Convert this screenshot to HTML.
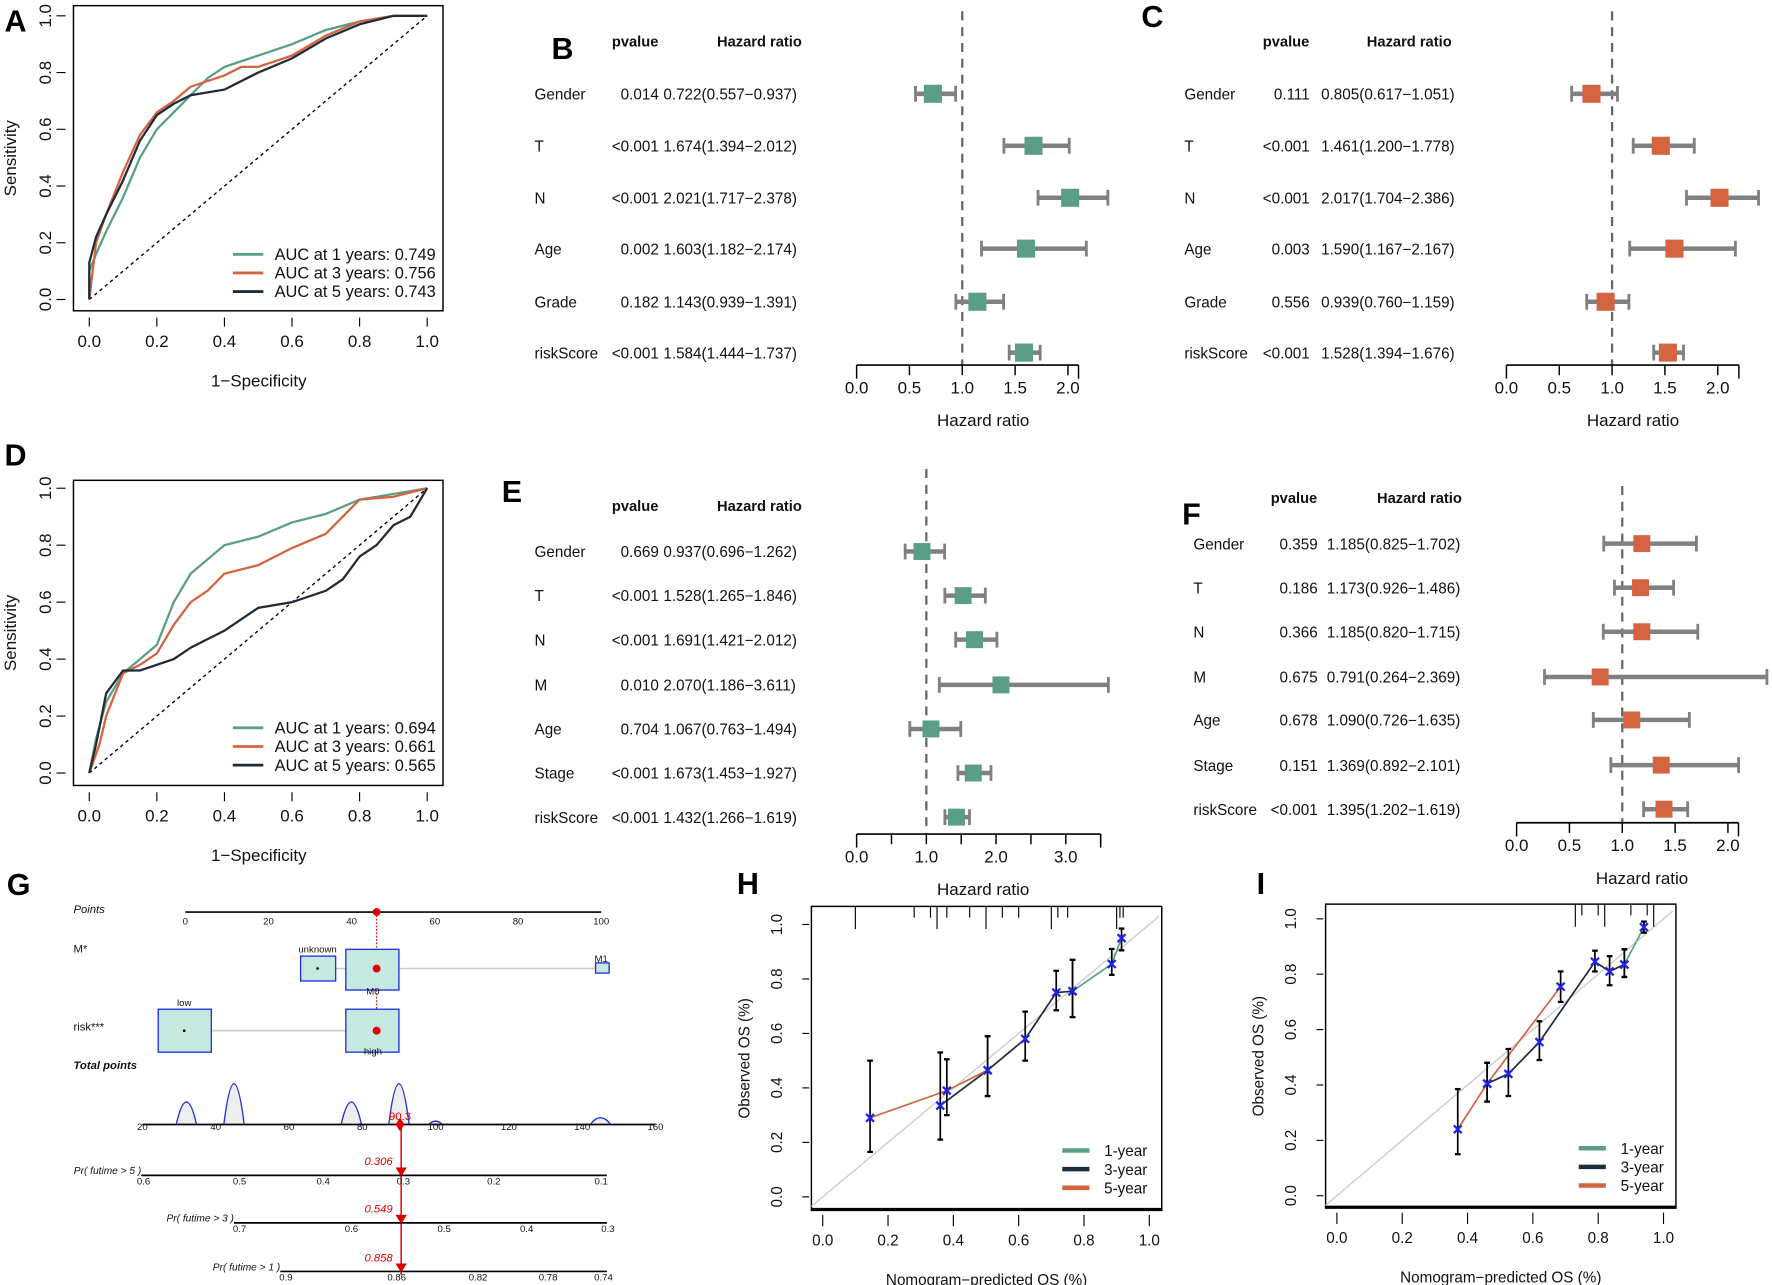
<!DOCTYPE html>
<html><head><meta charset="utf-8"><style>
html,body{margin:0;padding:0;background:#fff}
svg{display:block;font-family:"Liberation Sans",Arial,sans-serif}
</style></head><body>
<svg id="fig" xmlns="http://www.w3.org/2000/svg" width="1772" height="1285" viewBox="0 0 1568 1137" preserveAspectRatio="none"></svg>
<script>
// ---------- DATA ----------
// ROC A
const rocA_1y_fpr=[0,0,0.02,0.05,0.1,0.15,0.2,0.25,0.3,0.35,0.4,0.5,0.6,0.7,0.8,0.9,1];
const rocA_1y_tpr=[0,0.1,0.16,0.24,0.36,0.5,0.6,0.66,0.72,0.78,0.82,0.86,0.9,0.95,0.98,1,1];
const rocA_3y_fpr=[0,0.02,0.05,0.1,0.15,0.2,0.25,0.3,0.4,0.45,0.5,0.6,0.7,0.8,0.9,1];
const rocA_3y_tpr=[0,0.2,0.3,0.45,0.58,0.66,0.7,0.75,0.79,0.82,0.82,0.86,0.93,0.98,1,1];
const rocA_5y_fpr=[0,0,0.02,0.05,0.1,0.15,0.2,0.25,0.3,0.4,0.45,0.5,0.6,0.7,0.8,0.9,1];
const rocA_5y_tpr=[0,0.13,0.22,0.3,0.42,0.56,0.65,0.69,0.72,0.74,0.77,0.8,0.85,0.92,0.97,1,1];
const rocA_auc=["0.749","0.756","0.743"];
// ROC D
const rocD_1y_fpr=[0,0.02,0.05,0.1,0.15,0.2,0.25,0.3,0.35,0.4,0.5,0.6,0.7,0.8,0.9,1];
const rocD_1y_tpr=[0,0.12,0.25,0.35,0.4,0.45,0.6,0.7,0.75,0.8,0.83,0.88,0.91,0.96,0.98,1];
const rocD_3y_fpr=[0,0.03,0.05,0.1,0.15,0.2,0.25,0.3,0.35,0.4,0.5,0.6,0.7,0.8,0.9,1];
const rocD_3y_tpr=[0,0.1,0.2,0.35,0.38,0.42,0.52,0.6,0.64,0.7,0.73,0.79,0.84,0.96,0.97,1];
const rocD_5y_fpr=[0,0.02,0.05,0.1,0.15,0.2,0.25,0.3,0.35,0.4,0.5,0.6,0.7,0.75,0.8,0.85,0.9,0.95,1];
const rocD_5y_tpr=[0,0.1,0.28,0.36,0.36,0.38,0.4,0.44,0.47,0.5,0.58,0.6,0.64,0.68,0.76,0.8,0.87,0.9,1];
const rocD_auc=["0.694","0.661","0.565"];
const rocTicks=[0,0.2,0.4,0.6,0.8,1.0];
// Forest B
const fB_names=["Gender","T","N","Age","Grade","riskScore"];
const fB_p=["0.014","<0.001","<0.001","0.002","0.182","<0.001"];
const fB_hr=[0.722,1.674,2.021,1.603,1.143,1.584];
const fB_lo=[0.557,1.394,1.717,1.182,0.939,1.444];
const fB_hi=[0.937,2.012,2.378,2.174,1.391,1.737];
// Forest C
const fC_names=["Gender","T","N","Age","Grade","riskScore"];
const fC_p=["0.111","<0.001","<0.001","0.003","0.556","<0.001"];
const fC_hr=[0.805,1.461,2.017,1.590,0.939,1.528];
const fC_lo=[0.617,1.200,1.704,1.167,0.760,1.394];
const fC_hi=[1.051,1.778,2.386,2.167,1.159,1.676];
// Forest E
const fE_names=["Gender","T","N","M","Age","Stage","riskScore"];
const fE_p=["0.669","<0.001","<0.001","0.010","0.704","<0.001","<0.001"];
const fE_hr=[0.937,1.528,1.691,2.070,1.067,1.673,1.432];
const fE_lo=[0.696,1.265,1.421,1.186,0.763,1.453,1.266];
const fE_hi=[1.262,1.846,2.012,3.611,1.494,1.927,1.619];
// Forest F
const fF_names=["Gender","T","N","M","Age","Stage","riskScore"];
const fF_p=["0.359","0.186","0.366","0.675","0.678","0.151","<0.001"];
const fF_hr=[1.185,1.173,1.185,0.791,1.090,1.369,1.395];
const fF_lo=[0.825,0.926,0.820,0.264,0.726,0.892,1.202];
const fF_hi=[1.702,1.486,1.715,2.369,1.635,2.101,1.619];
const hrTicks2=[0,0.5,1.0,1.5,2.0];
const hrTicks3=[0,0.5,1.0,1.5,2.0,2.5,3.0,3.5];
const hrLabels3=["0.0","","1.0","","2.0","","3.0",""];
// Calibration H
const cH5_x=[0.145,0.38,0.505], cH5_y=[0.29,0.39,0.465], cH5_lo=[0.165,0.30,0.37], cH5_hi=[0.50,0.505,0.59];
const cH3_x=[0.36,0.505,0.62,0.715,0.765], cH3_y=[0.335,0.465,0.58,0.75,0.755], cH3_lo=[0.21,0.37,0.50,0.685,0.66], cH3_hi=[0.53,0.59,0.68,0.83,0.87];
const cH1_x=[0.765,0.885,0.915], cH1_y=[0.755,0.855,0.95], cH1_lo=[0.66,0.815,0.905], cH1_hi=[0.87,0.91,0.985];
const cH_rug=[0.1,0.28,0.33,0.35,0.38,0.45,0.5,0.55,0.6,0.7,0.72,0.75,0.9,0.91,0.92];
// Calibration I
const cI5_x=[0.37,0.46,0.685], cI5_y=[0.24,0.405,0.755], cI5_lo=[0.15,0.34,0.70], cI5_hi=[0.385,0.48,0.81];
const cI3_x=[0.46,0.525,0.62,0.79,0.835,0.88], cI3_y=[0.405,0.44,0.555,0.845,0.81,0.835], cI3_lo=[0.34,0.36,0.49,0.81,0.76,0.79], cI3_hi=[0.48,0.53,0.63,0.885,0.865,0.89];
const cI1_x=[0.88,0.94], cI1_y=[0.835,0.97], cI1_lo=[0.79,0.95], cI1_hi=[0.89,0.99];
const cI_rug=[0.73,0.75,0.8,0.82,0.9,0.95,0.97];
const calTicks=[0,0.2,0.4,0.6,0.8,1.0];
// Nomogram
const nomPoints=[0,20,40,60,80,100];
const nomTotal=[20,40,60,80,100,120,140,160];
const nomTotalScore=90.3;
const nomPts=46;
const nomDensX=[32,45,77,90,100,145], nomDensH=[20,36,20,36,3,6];
const pr5=["0.6","0.5","0.4","0.3","0.2","0.1"], pr3=["0.7","0.6","0.5","0.4","0.3"], pr1=["0.9","0.86","0.82","0.78","0.74"];
const prVals=["0.306","0.549","0.858"];

const GREEN="#5a9e87", ORANGE="#d4643f", NAVY="#1e2b3a", GRAY="#808080";
const NS="http://www.w3.org/2000/svg";
const S=document.getElementById('fig');
function mk(tag,attrs,parent){const e=document.createElementNS(NS,tag);for(const k in attrs)e.setAttribute(k,attrs[k]);(parent||S).appendChild(e);return e;}
function tx(str,x,y,attrs,parent){const e=mk('text',Object.assign({x:x,y:y,'font-size':14,fill:'#111'},attrs||{}),parent);e.textContent=str;return e;}
function grp(name){const g=mk('g',{});return g;}
function letter(s,x,y){const t=tx(s,x,y,{'font-size':27,'font-weight':'bold',fill:'#000'});}

// ---------- ROC ----------
function roc(id,top,bot,y0,y1,curves,auc,legY){
  const g=grp('roc-panel-'+id);
  const sx=v=>79+v*299, sy=v=>y0-v*(y0-y1);
  mk('rect',{x:65,y:top,width:327,height:bot-top,fill:'none',stroke:'#000','stroke-width':1.3},g);
  mk('line',{x1:sx(0),y1:sy(0),x2:sx(1),y2:sy(1),stroke:'#000','stroke-dasharray':'3,3','stroke-width':1.2},g);
  rocTicks.forEach(v=>{
    mk('line',{x1:sx(v),y1:bot+6,x2:sx(v),y2:bot+14,stroke:'#000'},g);
    const t=tx(v.toFixed(1),sx(v),bot+32,{'text-anchor':'middle','font-size':15},g);
    
    mk('line',{x1:50,y1:sy(v),x2:58,y2:sy(v),stroke:'#000'},g);
    const u=tx(v.toFixed(1),0,0,{'text-anchor':'middle','font-size':15,transform:`translate(45,${sy(v)}) rotate(-90)`},g);
    
  });
  mk('line',{x1:sx(0),y1:bot+10,x2:sx(1),y2:bot+10,stroke:'#000'},g).setAttribute('opacity','0');
  const xl=tx('1−Specificity',229,bot+67,{'text-anchor':'middle','font-size':15},g);
  
  const yl=tx('Sensitivity',0,0,{'text-anchor':'middle','font-size':15,transform:`translate(14,${(top+bot)/2}) rotate(-90)`},g);
  
  const cols=[GREEN,ORANGE,NAVY], yrs=[1,3,5];
  curves.forEach((c,i)=>{
    let d='';c[0].forEach((f,j)=>{d+=(j?'L':'M')+sx(f)+','+sy(c[1][j]);});
    const p=mk('path',{d:d,fill:'none',stroke:cols[i],'stroke-width':2},g);
    
  });
  curves.slice().reverse();
  yrs.forEach((y,i)=>{
    const yy=legY+i*16.5;
    const l=mk('line',{x1:206,y1:yy-5,x2:233,y2:yy-5,stroke:cols[i],'stroke-width':2.5},g);
    
    const t=tx(`AUC at ${y} years: ${auc[i]}`,243,yy,{'font-size':14.5},g);
    
  });
}
letter('A',4,28);
roc('a',5,275,265,14,[[rocA_1y_fpr,rocA_1y_tpr],[rocA_3y_fpr,rocA_3y_tpr],[rocA_5y_fpr,rocA_5y_tpr]],rocA_auc,230);
letter('D',4,412);
roc('d',425,695,684,432,[[rocD_1y_fpr,rocD_1y_tpr],[rocD_3y_fpr,rocD_3y_tpr],[rocD_5y_fpr,rocD_5y_tpr]],rocD_auc,649);

// ---------- FOREST ----------
function forest(id,c){
  const g=grp('forest-plot-'+id);
  const sx=v=>c.x0+v*c.unit;
  const h1=tx('pvalue',c.pvX,c.hdrY,{'font-size':13,'font-weight':'bold','text-anchor':'middle'},g);
  
  const h2=tx('Hazard ratio',c.hrHX,c.hdrY,{'font-size':13,'font-weight':'bold','text-anchor':'middle'},g);
  
  const dl=mk('line',{x1:sx(1),y1:c.dTop,x2:sx(1),y2:c.axY,stroke:'#666','stroke-width':2,'stroke-dasharray':'8,6'},g);
  
  c.names.forEach((n,i)=>{
    const y=c.rows[i];
    const a=tx(n,c.nameX,y+5,{'font-size':13.5},g);
    const b=tx(c.p[i],c.pR,y+5,{'font-size':13.5,'text-anchor':'end'},g);
    const t=tx(`${c.hr[i].toFixed(3)}(${c.lo[i].toFixed(3)}−${c.hi[i].toFixed(3)})`,c.hrX,y+5,{'font-size':13.5},g);
    
    const hiV=Math.min(c.hi[i],c.clip);
    const ci=mk('line',{x1:sx(c.lo[i]),y1:y,x2:sx(hiV),y2:y,stroke:GRAY,'stroke-width':4},g);
    
    mk('line',{x1:sx(c.lo[i]),y1:y-7,x2:sx(c.lo[i]),y2:y+7,stroke:GRAY,'stroke-width':2.5},g);
    if(c.hi[i]<=c.clip)mk('line',{x1:sx(c.hi[i]),y1:y-7,x2:sx(c.hi[i]),y2:y+7,stroke:GRAY,'stroke-width':2.5},g);
    const sq=mk('rect',{x:sx(c.hr[i])-c.sq/2,y:y-c.sq/2,width:c.sq,height:c.sq,fill:c.color},g);
    
  });
  mk('line',{x1:sx(c.ticks[0]),y1:c.axY,x2:sx(c.axEnd),y2:c.axY,stroke:'#000','stroke-width':1.5},g);
  c.ticks.forEach((v,i)=>{
    mk('line',{x1:sx(v),y1:c.axY,x2:sx(v),y2:c.axY+(i==0?12:9),stroke:'#000','stroke-width':1.3},g);
    const lab=c.labels?c.labels[i]:v.toFixed(1);
    if(lab){const t=tx(lab,sx(v),c.axY+25,{'font-size':15,'text-anchor':'middle'},g);}
  });
  mk('line',{x1:sx(c.axEnd),y1:c.axY,x2:sx(c.axEnd),y2:c.axY+12,stroke:'#000','stroke-width':1.3},g);
  const ti=tx('Hazard ratio',c.titleX,c.axY+54,{'font-size':15,'text-anchor':'middle'},g);
  
}
const rowsBC=[83,129,175,220,267,312];
letter('B',488,52);
forest('b',{names:fB_names,p:fB_p,hr:fB_hr,lo:fB_lo,hi:fB_hi,rows:rowsBC,nameX:473,pR:583,hrX:587,pvX:562,hrHX:672,hdrY:41,x0:758,unit:93.5,axY:323,dTop:10,ticks:hrTicks2,axEnd:2.1,titleX:870,color:GREEN,sq:16,clip:99});
letter('C',1010,24);
forest('c',{names:fC_names,p:fC_p,hr:fC_hr,lo:fC_lo,hi:fC_hi,rows:rowsBC,nameX:1048,pR:1159,hrX:1169,pvX:1138,hrHX:1247,hdrY:41,x0:1333,unit:93.5,axY:323,dTop:10,ticks:hrTicks2,axEnd:2.2,titleX:1445,color:ORANGE,sq:16,clip:99});
letter('E',444,444);
forest('e',{names:fE_names,p:fE_p,hr:fE_hr,lo:fE_lo,hi:fE_hi,rows:[488,527,566,606,645,684,723],nameX:473,pR:583,hrX:587,pvX:562,hrHX:672,hdrY:452,x0:758,unit:61.7,axY:738,dTop:415,ticks:hrTicks3,labels:hrLabels3,axEnd:3.5,titleX:870,color:GREEN,sq:15,clip:99});
letter('F',1046,464);
forest('f',{names:fF_names,p:fF_p,hr:fF_hr,lo:fF_lo,hi:fF_hi,rows:[481,520,559,599,637,677,716],nameX:1056,pR:1166,hrX:1174,pvX:1145,hrHX:1256,hdrY:445,x0:1342,unit:93.5,axY:728,dTop:430,ticks:hrTicks2,axEnd:2.1,titleX:1453,color:ORANGE,sq:15,clip:2.4});

// ---------- NOMOGRAM ----------
(function(){
  letter('G',6,792);
  const g=grp('nomogram');
  const px=v=>164+v*3.68, tx2=v=>126+(v-20)*3.243;
  const it={'font-style':'italic','font-size':10};
  tx('Points',65,808,it,g);
  mk('line',{x1:px(0),y1:807,x2:px(100),y2:807,stroke:'#000','stroke-width':1.5},g);
  nomPoints.forEach(v=>{tx(String(v),px(v),818,{'font-size':8.5,'text-anchor':'middle'},g);});
  mk('line',{x1:px(nomPts),y1:807,x2:px(nomPts),y2:912,stroke:'#d00','stroke-dasharray':'1.5,1.5'},g);
  mk('circle',{cx:px(nomPts),cy:807,r:3.5,fill:'#d00'},g);
  tx('M*',65,843,{'font-size':10},g);
  mk('line',{x1:297,y1:857,x2:527,y2:857,stroke:'#ccc','stroke-width':1.5},g);
  [[266,846,31,22,'unknown',843,281],[306,840,47,36,'M0',880,330],[527,852,12,9,'M1',851,532]].forEach(b=>{
    const r=mk('rect',{x:b[0],y:b[1],width:b[2],height:b[3],fill:'#c5e9e0',stroke:'#2233dd','stroke-width':1.2},g);
    
    tx(b[4],b[6],b[5],{'font-size':8.5,'text-anchor':'middle'},g);
  });
  tx('risk***',65,912,{'font-size':10},g);
  mk('line',{x1:187,y1:912,x2:306,y2:912,stroke:'#ccc','stroke-width':1.5},g);
  [[140,893,'low',890,163],[306,893,'high',933,330]].forEach(b=>{
    const r=mk('rect',{x:b[0],y:b[1],width:47,height:38,fill:'#c5e9e0',stroke:'#2233dd','stroke-width':1.2},g);
    
    tx(b[2],b[4],b[3],{'font-size':8.5,'text-anchor':'middle'},g);
  });
  mk('circle',{cx:163,cy:912,r:1.2,fill:'#000'},g);mk('circle',{cx:281,cy:857,r:1.2,fill:'#000'},g);
  mk('circle',{cx:px(nomPts),cy:857,r:3.5,fill:'#d00'},g);mk('circle',{cx:px(nomPts),cy:912,r:3.5,fill:'#d00'},g);
  tx('Total points',65,946,{'font-style':'italic','font-weight':'bold','font-size':10},g);
  nomDensX.forEach((v,i)=>{
    const x=tx2(v),h=nomDensH[i],w=i==4?6:9;
    const p=mk('path',{d:`M${x-w},995 Q${x},${995-2*h} ${x+w},995`,fill:'#eee',stroke:'#2233dd','stroke-width':1.2},g);
    
  });
  mk('line',{x1:tx2(20),y1:995,x2:tx2(160),y2:995,stroke:'#000','stroke-width':1.5},g);
  nomTotal.forEach(v=>{tx(String(v),tx2(v),1000,{'font-size':8.5,'text-anchor':'middle'},g);});
  const sx=tx2(nomTotalScore);
  tx(String(nomTotalScore),sx,991,{'font-size':10,fill:'#d00','text-anchor':'middle'},g);
  mk('path',{d:`M${sx},989 L${sx+4},995 L${sx},1001 L${sx-4},995Z`,fill:'#d00'},g);
  mk('line',{x1:sx+1,y1:995,x2:sx+1,y2:1128,stroke:'#d00','stroke-width':1.3},g);
  const prs=[['Pr( futime > 5 )',1040,125,pr5,[127,212,286,357,437,532]],['Pr( futime > 3 )',1082,207,pr3,[212,311,393,466,538]],['Pr( futime > 1 )',1125,248,pr1,[253,351,423,485,534]]];
  prs.forEach((p,i)=>{
    tx(p[0],p[2],p[1]-1,{'font-size':9,'font-style':'italic','text-anchor':'end'},g);
    mk('line',{x1:p[2],y1:p[1],x2:537,y2:p[1],stroke:'#000','stroke-width':1.5},g);
    p[3].forEach((l,j)=>{tx(l,p[4][j],p[1]+8,{'font-size':8.5,'text-anchor':'middle'},g);});
    tx(prVals[i],335,p[1]-9,{'font-size':10,'font-style':'italic',fill:'#d00','text-anchor':'middle'},g);
    mk('path',{d:`M${sx-4},${p[1]-7} L${sx+6},${p[1]-7} L${sx+1},${p[1]+1}Z`,fill:'#d00'},g);
  });
})();

// ---------- CALIBRATION ----------
function calib(id,c){
  const g=grp('calibration-plot-'+id);
  const sx=v=>c.x0+v*(c.x1-c.x0), sy=v=>c.y0-v*(c.y0-c.y1);
  mk('rect',{x:c.bl,y:c.bt,width:c.br-c.bl,height:c.bb-c.bt,fill:'none',stroke:'#000','stroke-width':1.3},g);
  mk('line',{x1:c.bl,y1:c.bb-1,x2:c.br,y2:c.bb-1,stroke:'#000','stroke-width':2.5},g);
  const d0=(c.bl-c.x0)/(c.x1-c.x0);
  mk('line',{x1:sx(Math.max(d0,(c.y0-c.bb)/(c.y0-c.y1))),y1:sy(Math.max(d0,(c.y0-c.bb)/(c.y0-c.y1))),x2:sx(1.03),y2:sy(1.03),stroke:'#cfcfcf','stroke-width':1.3},g);
  c.rug.forEach((v,i)=>{mk('line',{x1:sx(v),y1:c.bt,x2:sx(v),y2:c.bt+(i%3==0?20:10),stroke:'#000','stroke-width':1},g);});
  calTicks.forEach(v=>{
    mk('line',{x1:sx(v),y1:c.bb+4,x2:sx(v),y2:c.bb+14,stroke:'#000'},g);
    const t=tx(v.toFixed(1),sx(v),c.bb+31,{'font-size':13.5,'text-anchor':'middle'},g);
    mk('line',{x1:c.bl-8,y1:sy(v),x2:c.bl-2,y2:sy(v),stroke:'#000'},g);
    const u=tx(v.toFixed(1),0,0,{'font-size':13.5,'text-anchor':'middle',transform:`translate(${c.bl-26},${sy(v)}) rotate(-90)`},g);
  });
  const xl=tx('Nomogram−predicted OS (%)',(c.bl+c.br)/2,c.bb+66,{'font-size':13.5,'text-anchor':'middle'},g);
  const yl=tx('Observed OS (%)',0,0,{'font-size':13.5,'text-anchor':'middle',transform:`translate(${c.bl-55},${(c.bt+c.bb)/2}) rotate(-90)`},g);
  const cols=[GREEN,NAVY,ORANGE], names=['1-year','3-year','5-year'];
  c.series.forEach((s,k)=>{
    let d='';s[0].forEach((x,j)=>{d+=(j?'L':'M')+sx(x)+','+sy(s[1][j]);});
    const p=mk('path',{d:d,fill:'none',stroke:cols[k],'stroke-width':1.5},g);
  });
  c.series.forEach((s,k)=>{
    s[0].forEach((x,j)=>{
      const e=mk('line',{x1:sx(x),y1:sy(s[2][j]),x2:sx(x),y2:sy(s[3][j]),stroke:'#000','stroke-width':1.5},g);
      mk('line',{x1:sx(x)-2.5,y1:sy(s[2][j]),x2:sx(x)+2.5,y2:sy(s[2][j]),stroke:'#000','stroke-width':2},g);
      mk('line',{x1:sx(x)-2.5,y1:sy(s[3][j]),x2:sx(x)+2.5,y2:sy(s[3][j]),stroke:'#000','stroke-width':2},g);
      const px=sx(x),py=sy(s[1][j]);
      const m=mk('path',{d:`M${px-3.5},${py-3.5}L${px+3.5},${py+3.5}M${px+3.5},${py-3.5}L${px-3.5},${py+3.5}`,stroke:'#2222ee','stroke-width':2},g);
    });
  });
  names.forEach((n,k)=>{
    const y=c.legY+k*16.5;
    mk('line',{x1:c.legX,y1:y,x2:c.legX+24,y2:y,stroke:cols[k],'stroke-width':4},g);
    const t=tx(n,c.legX+37,y+5,{'font-size':13.5},g);
  });
}
letter('H',652,791);
calib('h',{x0:728,x1:1017,y0:1059,y1:818,bl:718,br:1028,bt:802,bb:1071,rug:cH_rug,legX:940,legY:1018,
  series:[[cH1_x,cH1_y,cH1_lo,cH1_hi],[cH3_x,cH3_y,cH3_lo,cH3_hi],[cH5_x,cH5_y,cH5_lo,cH5_hi]]});
letter('I',1112,791);
calib('i',{x0:1183,x1:1472,y0:1058,y1:813,bl:1173,br:1483,bt:800,bb:1069,rug:cI_rug,legX:1397,legY:1016,
  series:[[cI1_x,cI1_y,cI1_lo,cI1_hi],[cI3_x,cI3_y,cI3_lo,cI3_hi],[cI5_x,cI5_y,cI5_lo,cI5_hi]]});
</script>
</body></html>
